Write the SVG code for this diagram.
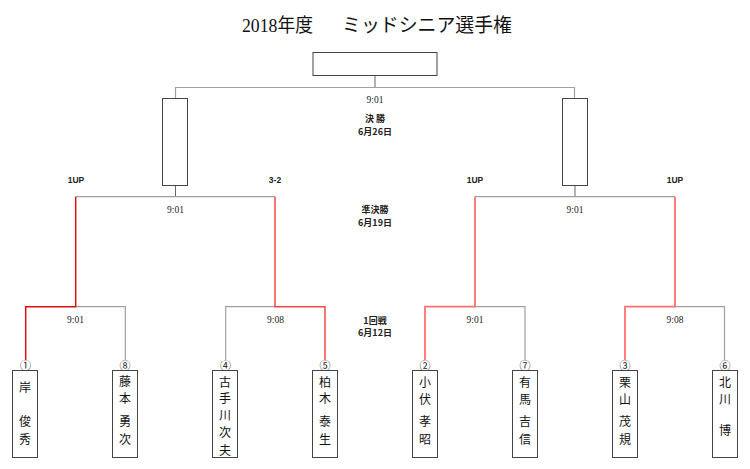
<svg xmlns="http://www.w3.org/2000/svg" width="750" height="469" viewBox="0 0 750 469">
<style>
.bg{fill:#fff}
.box{fill:#fff;stroke:#444;stroke-width:1}
.g{fill:none;stroke:#a0a0a0;stroke-width:1.2}
.d{fill:none;stroke:#666;stroke-width:1}
.r1{fill:none;stroke:#e01010;stroke-width:1.5}
.r2{fill:none;stroke:#f44848;stroke-width:1.5}
.r3{fill:none;stroke:#ff7070;stroke-width:1.8}
.title{font-family:"Liberation Serif","Noto Sans CJK JP",serif;font-size:19px;fill:#111}
.t{font-family:"Liberation Serif","Noto Sans CJK JP",serif;font-size:9.5px;fill:#222;text-anchor:middle;dominant-baseline:central}
.lab{font-family:"Noto Sans CJK JP","Liberation Serif",serif;font-size:9px;font-weight:bold;fill:#222;text-anchor:middle;dominant-baseline:central}
.sc{font-family:"Liberation Sans",Arial,sans-serif;font-size:8.5px;font-weight:bold;fill:#222;text-anchor:middle;dominant-baseline:central}
.num{font-family:"Noto Sans CJK JP","DejaVu Sans",sans-serif;font-size:11px;fill:#222;text-anchor:middle;dominant-baseline:central}
.nm{font-family:"Noto Sans CJK JP",sans-serif;font-size:12px;fill:#111;text-anchor:middle;dominant-baseline:central}
</style>
<rect class="bg" x="0" y="0" width="750" height="469"/>
<text class="title" x="242" y="32" textLength="71" lengthAdjust="spacingAndGlyphs">2018年度</text>
<text class="title" x="342" y="32" textLength="170" lengthAdjust="spacingAndGlyphs">ミッドシニア選手権</text>

<g id="connectors">
  <path class="d" d="M375 75.5V87.5"/>
  <path class="g" d="M175.5 98.5V87.5H574.5V98.5"/>
  <path class="d" d="M175.5 185.5V196.7"/>
  <path class="d" d="M575 185.5V196.7"/>
  <path class="g" d="M75.7 196.7H275"/>
  <path class="g" d="M475 196.7H675"/>
  <path class="g" d="M75.7 306.7H125.3V360"/>
  <path class="g" d="M225.7 360V306.7H275"/>
  <path class="g" d="M475 306.7H525V360"/>
  <path class="g" d="M675 306.7H724.5V360"/>
  <path class="r1" d="M25.7 360V306.7H75.7V196.7"/>
  <path class="r2" d="M325 360V306.7H275V196.7"/>
  <path class="r3" d="M425 360V306.7H475V196.7"/>
  <path class="r3" d="M625 360V306.7H675V196.7"/>
</g>

<g id="labels">
  <text class="t" x="375" y="99.5">9:01</text>
  <text class="lab" x="375" y="118">決 勝</text>
  <text class="lab" x="375" y="131.5">6月26日</text>
  <text class="lab" x="375" y="209">準決勝</text>
  <text class="lab" x="375" y="222.5">6月19日</text>
  <text class="lab" x="375" y="320">1回戦</text>
  <text class="lab" x="375" y="332.5">6月12日</text>
  <text class="t" x="175.5" y="210">9:01</text>
  <text class="t" x="575" y="210">9:01</text>
  <text class="t" x="75.5" y="319.5">9:01</text>
  <text class="t" x="275.5" y="319.5">9:08</text>
  <text class="t" x="475" y="319.5">9:01</text>
  <text class="t" x="675" y="319.5">9:08</text>
  <text class="sc" x="76" y="180">1UP</text>
  <text class="sc" x="275" y="180">3-2</text>
  <text class="sc" x="475" y="180">1UP</text>
  <text class="sc" x="675" y="180">1UP</text>
</g>

<g id="final"><rect class="box" x="313" y="52.5" width="124" height="23"/></g>
<g id="semi-left"><rect class="box" x="162.5" y="98.5" width="25" height="87"/></g>
<g id="semi-right"><rect class="box" x="562.5" y="98.5" width="25" height="87"/></g>

<g id="p1"><text class="num" x="25.5" y="365">①</text><rect class="box" x="12.5" y="370.5" width="25" height="87"/>
<text class="nm" x="25" y="386">岸</text><text class="nm" x="25" y="420">俊</text><text class="nm" x="25" y="438">秀</text></g>
<g id="p8"><text class="num" x="125" y="365">⑧</text><rect class="box" x="112.5" y="370.5" width="25" height="87"/>
<text class="nm" x="125" y="380">藤</text><text class="nm" x="125" y="397">本</text><text class="nm" x="125" y="420">勇</text><text class="nm" x="125" y="438">次</text></g>
<g id="p4"><text class="num" x="225.5" y="365">④</text><rect class="box" x="212.5" y="370.5" width="25" height="87"/>
<text class="nm" x="225" y="381">古</text><text class="nm" x="225" y="397.5">手</text><text class="nm" x="225" y="414">川</text><text class="nm" x="225" y="431.5">次</text><text class="nm" x="225" y="449">夫</text></g>
<g id="p5"><text class="num" x="325" y="365">⑤</text><rect class="box" x="312.5" y="370.5" width="25" height="87"/>
<text class="nm" x="325" y="381">柏</text><text class="nm" x="325" y="397.5">木</text><text class="nm" x="325" y="420">泰</text><text class="nm" x="325" y="438">生</text></g>
<g id="p2"><text class="num" x="425" y="365">②</text><rect class="box" x="412.5" y="370.5" width="25" height="87"/>
<text class="nm" x="425" y="381">小</text><text class="nm" x="425" y="398">伏</text><text class="nm" x="425" y="420">孝</text><text class="nm" x="425" y="438">昭</text></g>
<g id="p7"><text class="num" x="525" y="365">⑦</text><rect class="box" x="512.5" y="370.5" width="25" height="87"/>
<text class="nm" x="525" y="381">有</text><text class="nm" x="525" y="398">馬</text><text class="nm" x="525" y="420">吉</text><text class="nm" x="525" y="438">信</text></g>
<g id="p3"><text class="num" x="625" y="365">③</text><rect class="box" x="612.5" y="370.5" width="25" height="87"/>
<text class="nm" x="625" y="381">栗</text><text class="nm" x="625" y="398">山</text><text class="nm" x="625" y="420">茂</text><text class="nm" x="625" y="438">規</text></g>
<g id="p6"><text class="num" x="725" y="365">⑥</text><rect class="box" x="712.5" y="370.5" width="25" height="87"/>
<text class="nm" x="725" y="381">北</text><text class="nm" x="725" y="398">川</text><text class="nm" x="725" y="429">博</text></g>
</svg>
